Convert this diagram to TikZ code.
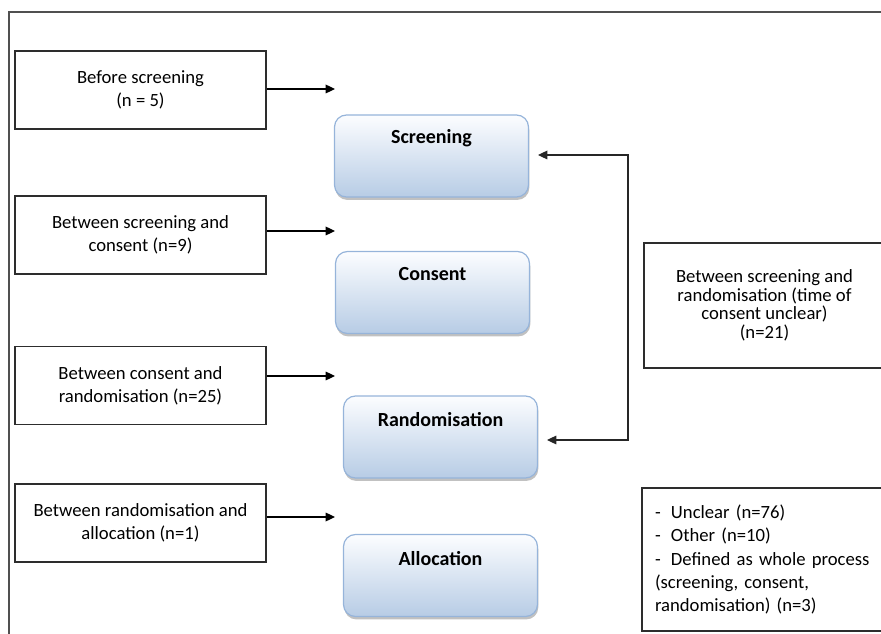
\documentclass[tikz,border=0pt]{standalone}
\usepackage{fontspec}
\setmainfont{Carlito}
\usetikzlibrary{arrows.meta,shadows}
\definecolor{bluebot}{RGB}{183,204,229}
\definecolor{bluetop}{RGB}{252,253,255}
\definecolor{blueedge}{RGB}{150,180,218}
\definecolor{boxedge}{RGB}{45,45,45}
\definecolor{frameline}{RGB}{80,80,80}
\tikzset{
  leftbox/.style={draw=boxedge, line width=1.1pt, rectangle, inner sep=0pt,
    minimum width=188.25pt, minimum height=58.5pt, align=center,
    font=\fontsize{14}{17.25}\selectfont},
  stage/.style={draw=blueedge, line width=0.9pt, rectangle, rounded corners=9pt,
    minimum width=145.5pt, minimum height=61.5pt, inner sep=0pt,
    top color=bluetop, bottom color=bluebot,
    drop shadow={shadow xshift=0.6pt, shadow yshift=-2.2pt, opacity=0.35, fill=black!70}},
  stagelabel/.style={font=\fontsize{15}{18}\selectfont\bfseries, anchor=center},
  conn/.style={line width=0.9pt, black, -{Triangle[length=7pt,width=6.5pt]}},
  biconn/.style={line width=0.9pt, black!85, {Triangle[length=7pt,width=6.5pt]}-{Triangle[length=7pt,width=6.5pt]}},
}
\begin{document}
\begin{tikzpicture}[x=0.75pt,y=-0.75pt]
\useasboundingbox (0,0) rectangle (881,634);
% outer frame
\draw[frameline, line width=1.4pt] (9,645) -- (9,12) -- (895,12);

% left boxes
\node[leftbox] (b1) at (140.5,90) {Before screening\\(n = 5)};
\node[leftbox] (b2) at (140.5,235) {Between screening and\\consent (n=9)};
\node[leftbox] (b3) at (140.5,385.5) {Between consent and\\randomisation (n=25)};
\node[leftbox] (b4) at (140.5,523) {Between randomisation and\\allocation (n=1)};

% stage boxes
\node[stage, label={[stagelabel, yshift=-18pt]north:Screening}] (scr) at (431.5,156) {};
\node[stage, label={[stagelabel, yshift=-17.5pt]north:Consent}] (con) at (432.5,292.5) {};
\node[stage, label={[stagelabel, yshift=-18pt]north:Randomisation}] (ran) at (440.5,437) {};
\node[stage, label={[stagelabel, yshift=-18.5pt]north:Allocation}] (all) at (440.5,575.5) {};

% right boxes
\node[draw=boxedge, line width=1.1pt, rectangle, inner sep=0pt,
  minimum width=180.75pt, minimum height=93.75pt, align=center,
  font=\fontsize{14}{13.9}\selectfont] (r1) at (764.5,305.5)
  {Between screening and\\randomisation (time of\\consent unclear)\\(n=21)};
\node[draw=boxedge, line width=1.1pt, rectangle, inner xsep=9.75pt, inner ysep=0pt,
  text width=162.75pt, minimum height=107.25pt, align=left,
  font=\fontsize{14}{17.5}\selectfont] (r2) at (763.5,559.5)
  {-\hspace{0.55em}Unclear (n=76)\\-\hspace{0.55em}Other (n=10)\\-\hspace{0.55em}Defined as whole process\\(screening, consent,\\randomisation) (n=3)};

% arrow tips
\coordinate (t1) at (335,89);
\coordinate (t2) at (335,231);
\coordinate (t3) at (335,376);
\coordinate (t4) at (335,517);
\draw[conn] (b1.east |- t1) -- (t1);
\draw[conn] (b2.east |- t2) -- (t2);
\draw[conn] (b3.east |- t3) -- (t3);
\draw[conn] (b4.east |- t4) -- (t4);

% bracket connector
\coordinate (ts) at (538,155);
\coordinate (tr) at (547,440);
\coordinate (c1) at (628,155);
\coordinate (c2) at (628,440);
\draw[biconn] (ts) -- (c1) -- (c2) -- (tr);
\end{tikzpicture}
\end{document}
